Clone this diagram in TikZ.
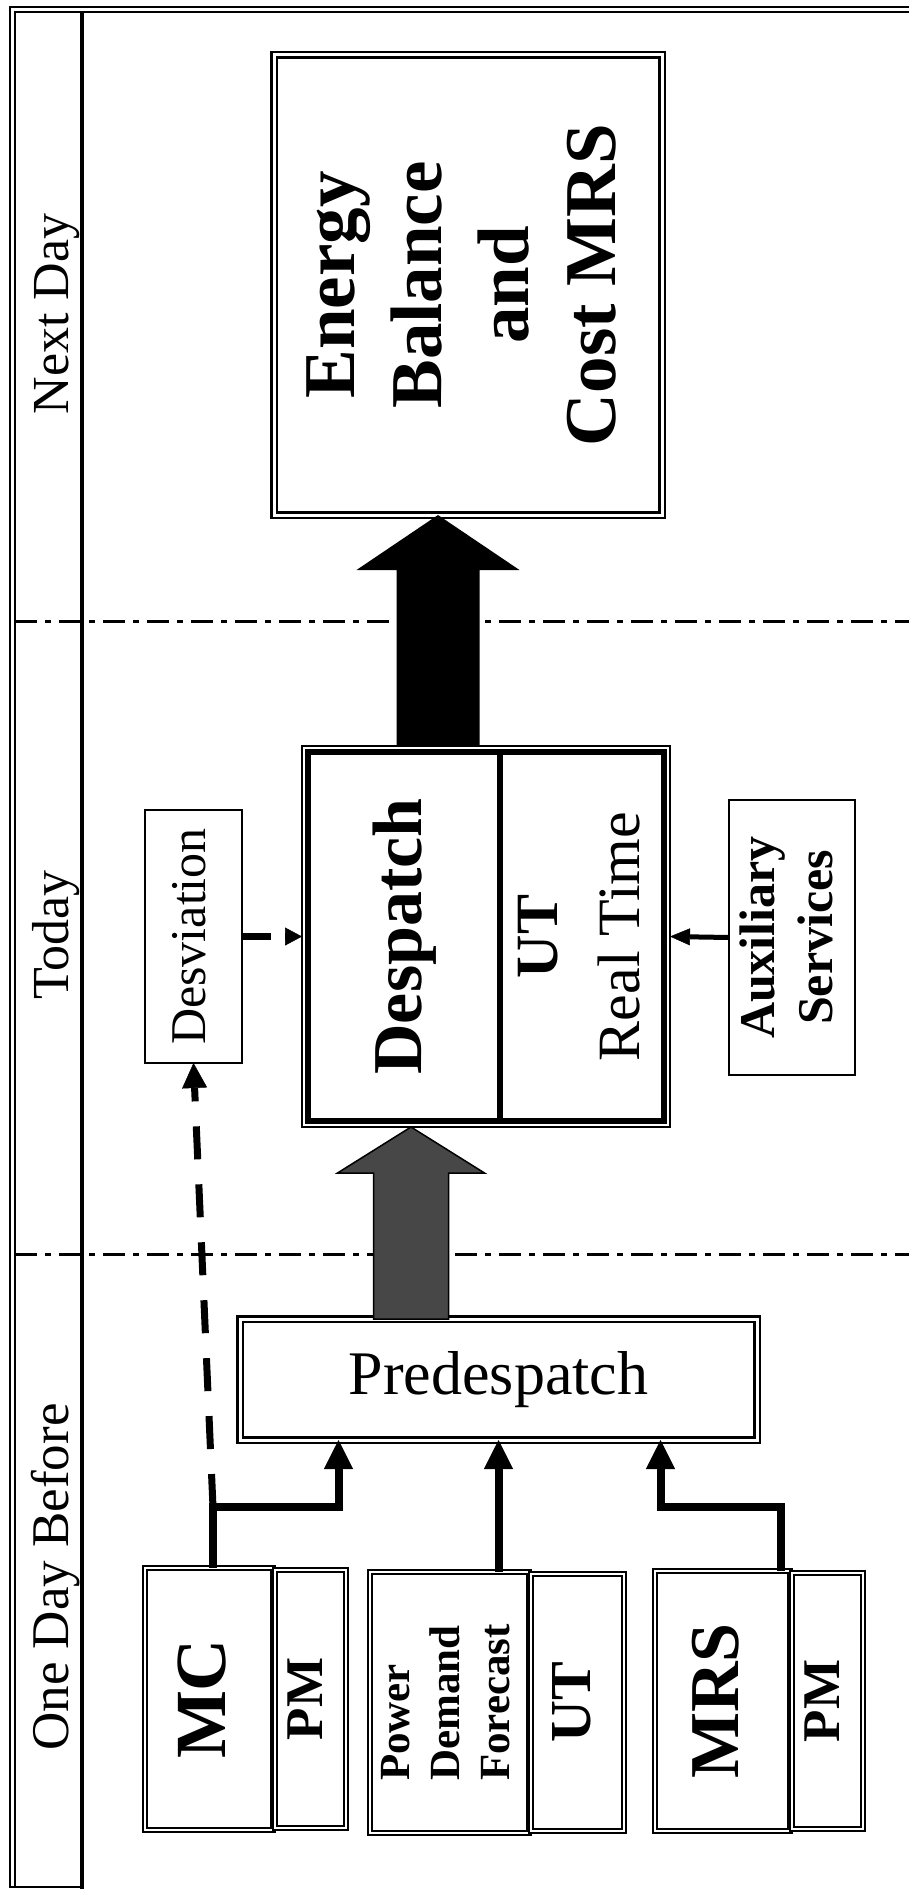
\documentclass[tikz,border=0pt]{standalone}
\usepackage{fontspec}
\setmainfont{Liberation Serif}
\usepackage{graphicx}
\usetikzlibrary{arrows.meta,positioning,calc,fit}
\newcommand{\rotlines}[2][c]{\rotatebox{90}{\begin{tabular}{@{}#1@{}}#2\end{tabular}}}
\newcommand{\fsz}[2]{\fontsize{#1pt}{#2pt}\selectfont}

\begin{document}
\begin{tikzpicture}[x=1pt, y=-1pt,
  box/.style={draw, double, line width=1.4pt, double distance=2.4pt, inner sep=0pt, outer sep=0pt, align=center},
  bigbox/.style={box, line width=2.4pt, double distance=3pt},
  plain/.style={draw, line width=1.6pt, inner sep=0pt, outer sep=0pt},
  core/.style={draw, line width=6pt, inner sep=0pt, outer sep=0pt, minimum height=369pt},
  day/.style={inner sep=0pt},
  daydiv/.style={line width=3pt, dash pattern=on 22pt off 8pt on 6pt off 8pt},
  arr/.style={-{Triangle[length=29pt,width=29pt,line width=0.5pt]}, line width=8pt},
  auxarr/.style={-{Triangle[length=20pt,width=17pt,line width=0.5pt]}, line width=5pt},
  darr/.style={-{Triangle[length=25pt,width=25pt,line width=0.5pt]}, line width=7pt, dash pattern=on 33pt off 25pt},
  desvarr/.style={-{Triangle[length=17pt,width=18pt,line width=0.5pt]}, line width=7pt, dash pattern=on 29pt off 14pt}]
\useasboundingbox (0,0) rectangle (909,1889);
% frame and days
\draw[line width=2pt] (909,7) -- (10,7) -- (10,1887) -- (84,1887);
\draw[line width=2pt] (909,12) -- (15,12) -- (15,1887);
\draw[line width=4pt] (82,12) -- (82,1889);
\draw[daydiv] (15,621) -- (909,621);
\draw[daydiv] (15,1254) -- (909,1254);
\node[day, font=\fsz{52}{60}] (lnext) at (56,314) {\rotlines{Next Day}};
\node[day, font=\fsz{52}{60}] (ltoday) at (56,935) {\rotlines{Today}};
\node[day, font=\fsz{53}{60}] (lbefore) at (56,1577) {\rotlines{One Day Before}};
% boxes
\node[bigbox, minimum width=388pt, minimum height=460pt, font=\fsz{73}{87}\bfseries] (energy) at (468,285) {\rotlines{Energy\\Balance\\and\\Cost MRS}};
\node[core, minimum width=192pt, font=\fsz{70}{87}\bfseries] (desp) at (404,936.5) {\rotlines{Despatch}};
\node[core, minimum width=158pt, right=0pt of desp, font=\fsz{60}{82}] (rtime) {\rotlines{\textbf{UT}\\Real Time}};
\node[draw, line width=1.5pt, outer sep=0pt, fit=(desp)(rtime), inner sep=6pt] (dframe) {};
\node[plain, minimum width=97pt, minimum height=253pt, font=\fsz{50}{58}] (desv) at (193.5,936.5) {\rotlines{Desviation}};
\node[plain, minimum width=126pt, minimum height=275pt, font=\fsz{50}{58}\bfseries] (aux) at (792,937.5) {\rotlines{Auxiliary\\Services}};
\node[bigbox, minimum width=517pt, minimum height=121pt, font=\fsz{62}{70}] (pred) at (498.5,1379.5) {Predespatch};
\node[box, minimum width=128pt, minimum height=262pt, font=\fsz{72}{80}\bfseries] (mc) at (209,1699) {\rotlines{MC}};
\node[box, minimum width=71pt, minimum height=258pt, right=2pt of mc, font=\fsz{53}{60}\bfseries] (pmmc) {\rotlines{PM}};
\node[box, minimum width=159pt, minimum height=261pt, font=\fsz{43}{50}\bfseries] (pdf) at (449.5,1702.5) {\rotlines[l]{Power\\Demand\\Forecast}};
\node[box, minimum width=93pt, minimum height=257pt, right=2pt of pdf, font=\fsz{58}{66}\bfseries] (utpdf) {\rotlines{UT}};
\node[box, minimum width=135pt, minimum height=260pt, font=\fsz{70}{80}\bfseries] (mrs) at (722.5,1701) {\rotlines{MRS}};
\node[box, minimum width=71pt, minimum height=256pt, right=2pt of mrs, font=\fsz{53}{60}\bfseries] (pmmrs) {\rotlines{PM}};
% fat arrows
\coordinate (bt) at ([xshift=-30pt]energy.south);
\coordinate (bb) at (bt |- dframe.north);
\fill (bt) -- ++(81.5,55) -- ++(-40,0) -- ($(bb)+(41.5,0)$) -- ($(bb)+(-41.5,0)$) -- ($(bt)+(-41.5,55)$) -- ++(-40,0) -- cycle;
\coordinate (gt) at ([xshift=-75pt]dframe.south);
\coordinate (gb) at (gt |- pred.north);
\draw[line width=1.5pt, fill=black!72] (gt) -- ++(73.5,46) -- ++(-36,0) -- ($(gb)+(37.5,0)$) -- ($(gb)+(-37.5,0)$) -- ($(gt)+(-37.5,46)$) -- ++(-36,0) -- cycle;
% connectors
\draw[arr] ([xshift=4pt]mc.north) -- ++(0,-61) coordinate (jmc) -| ([xshift=-160pt]pred.south);
\draw[arr] (pdf.north -| pred.south) -- (pred.south);
\draw[arr] ([xshift=58pt]mrs.north) -- ++(0,-64) -| ([xshift=162pt]pred.south);
\draw[darr] (jmc) -- (desv.south);
\draw[desvarr] (desv.east) -- (dframe.west);
\draw[auxarr] (aux.west) -- (dframe.east);
\end{tikzpicture}
\end{document}
